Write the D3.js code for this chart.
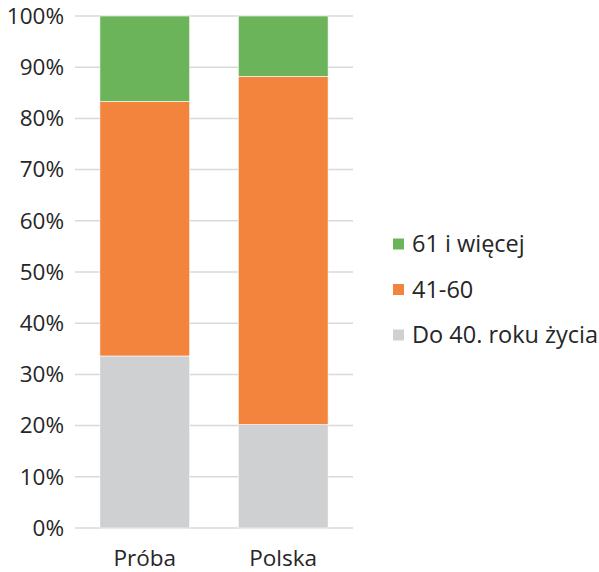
<!DOCTYPE html>
<html>
<head>
<meta charset="utf-8">
<script src="https://cdn.jsdelivr.net/npm/d3@7"></script>
<style>
  body { margin: 0; background: #fff; }
  text { font-family: "Open Sans", sans-serif; fill: #262626; }
</style>
</head>
<body>
<svg id="chart" width="599" height="572"></svg>
<script>
// data (percent)
var categories = ["Próba", "Polska"];
var seriesNames = ["Do 40. roku życia", "41-60", "61 i więcej"];
var young = [33.6, 20.2];
var middle = [49.7, 68.0];
var old = [16.7, 11.8];
var yTicks = [0, 10, 20, 30, 40, 50, 60, 70, 80, 90, 100];

var colors = {"Do 40. roku życia": "#cfd0d2", "41-60": "#f3843e", "61 i więcej": "#6bb45a"};

var rows = categories.map(function(c, i) {
  return {cat: c, "Do 40. roku życia": young[i], "41-60": middle[i], "61 i więcej": old[i]};
});

var svg = d3.select("#chart");

var x = d3.scaleBand()
  .domain(categories)
  .range([75, 353])
  .paddingInner(0.351)
  .paddingOuter(0.18);

var y = d3.scaleLinear()
  .domain([0, 100])
  .range([528, 16]);

// gridlines
svg.append("g")
  .selectAll("line")
  .data(yTicks)
  .enter().append("line")
  .attr("x1", 75).attr("x2", 353)
  .attr("y1", function(d) { return y(d); })
  .attr("y2", function(d) { return y(d); })
  .style("stroke", "#d9d9d9")
  .style("stroke-width", 1.5);

// y tick labels
var yAxis = svg.append("g")
  .attr("transform", "translate(75,0)")
  .call(d3.axisLeft(y).tickValues(yTicks).tickSize(0).tickPadding(11)
    .tickFormat(function(d) { return d + "%"; }));
yAxis.select(".domain").remove();
yAxis.selectAll("text").style("font-size", "22.5px").style("font-family", "Open Sans").attr("fill", "#262626");

var stack = d3.stack().keys(seriesNames);
var layers = stack(rows);

svg.append("g")
  .selectAll("g")
  .data(layers)
  .enter().append("g")
  .style("fill", function(d) { return colors[d.key]; })
  .selectAll("rect")
  .data(function(d) { return d; })
  .enter().append("rect")
  .attr("x", function(d) { return x(d.data.cat); })
  .attr("width", x.bandwidth())
  .attr("y", function(d) { return y(d[1]); })
  .attr("height", function(d) { return y(d[0]) - y(d[1]); })
  .style("stroke", "#ffffff")
  .style("stroke-width", 0.6);

// category labels
var xAxis = svg.append("g")
  .attr("transform", "translate(0,528)")
  .call(d3.axisBottom(x).tickSize(0).tickPadding(22));
xAxis.select(".domain").remove();
xAxis.selectAll("text").style("font-size", "22.5px").style("font-family", "Open Sans").attr("fill", "#262626");

// legend (top to bottom: reversed order)
var legendItems = seriesNames.slice().reverse();
var legend = svg.append("g")
  .selectAll("g")
  .data(legendItems)
  .enter().append("g")
  .attr("transform", function(d, i) { return "translate(393," + (244 + i * 45.5) + ")"; });

legend.append("rect")
  .attr("x", 0).attr("y", -5.5)
  .attr("width", 11).attr("height", 11)
  .style("fill", function(d) { return colors[d]; });

legend.append("text")
  .attr("x", 19).attr("y", 0)
  .attr("dy", "0.35em")
  .style("font-size", "23.5px")
  .text(function(d) { return d; });
</script>
</body>
</html>
